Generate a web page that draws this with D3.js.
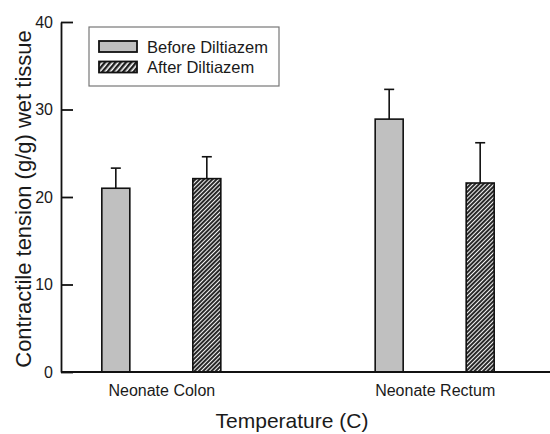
<!DOCTYPE html>
<html lang="en">
<head>
  <meta charset="UTF-8">
  <title>Contractile tension</title>
  <script src="https://d3js.org/d3.v7.min.js"></script>
  <style>
    body { margin: 0; background: #fff; }
    text { font-family: "Liberation Sans", Arial, sans-serif; fill: #1a1a1a; }
    .axis path, .axis line { stroke: #111; stroke-width: 1.8px; }
    .bar { stroke: #111; stroke-width: 1.6px; }
    .err { stroke: #111; stroke-width: 1.6px; }
  </style>
</head>
<body>

<svg width="550" height="434"></svg>

<script>
  // data
  const categories = ["Neonate Colon", "Neonate Rectum"];
  const series = ["Before Diltiazem", "After Diltiazem"];
  const before = [21.0, 28.9];
  const beforeErr = [2.3, 3.4];
  const after = [22.1, 21.6];
  const afterErr = [2.5, 4.6];
  const yTicks = [0, 10, 20, 30, 40];

  const rows = [];
  categories.forEach((c, i) => {
    rows.push({ cat: c, s: series[0], v: before[i], e: beforeErr[i] });
    rows.push({ cat: c, s: series[1], v: after[i], e: afterErr[i] });
  });

  const svg = d3.select("svg");
  const mLeft = 61, mBottom = 372, mTop = 22, mRight = 550;

  const y = d3.scaleLinear().domain([0, 40]).range([mBottom, mTop]);
  const x0 = d3.scalePoint().domain(categories).range([61, 535]).padding(0.367);
  const x1 = d3.scalePoint().domain(series).range([-45.5, 45.5]);
  const barW = 28;

  // hatch pattern
  const defs = svg.append("defs");
  const pat = defs.append("pattern")
    .attr("id", "hatch")
    .attr("patternUnits", "userSpaceOnUse")
    .attr("width", 3).attr("height", 3)
    .attr("patternTransform", "rotate(45)");
  pat.append("rect").attr("width", 3).attr("height", 3).attr("fill", "#f4f4f4");
  pat.append("line")
    .attr("x1", 1).attr("y1", 0).attr("x2", 1).attr("y2", 3)
    .attr("stroke", "#1e1e1e").attr("stroke-width", 1.9);

  const pat2 = defs.append("pattern")
    .attr("id", "hatchLegend")
    .attr("patternUnits", "userSpaceOnUse")
    .attr("width", 4).attr("height", 4)
    .attr("patternTransform", "rotate(40)");
  pat2.append("rect").attr("width", 4).attr("height", 4).attr("fill", "#fff");
  pat2.append("line")
    .attr("x1", 1.2).attr("y1", 0).attr("x2", 1.2).attr("y2", 4)
    .attr("stroke", "#1e1e1e").attr("stroke-width", 2.5);

  const fillFor = s => s === series[0] ? "#c0c0c0" : "url(#hatch)";

  // error bars (upper only)
  const eb = svg.selectAll(".errg").data(rows).enter().append("g");
  eb.append("line").attr("class", "err")
    .attr("x1", d => x0(d.cat) + x1(d.s)).attr("x2", d => x0(d.cat) + x1(d.s))
    .attr("y1", d => y(d.v)).attr("y2", d => y(d.v + d.e));
  eb.append("line").attr("class", "err")
    .attr("x1", d => x0(d.cat) + x1(d.s) - 5).attr("x2", d => x0(d.cat) + x1(d.s) + 5)
    .attr("y1", d => y(d.v + d.e)).attr("y2", d => y(d.v + d.e));

  // bars
  svg.selectAll(".bar").data(rows).enter().append("rect")
    .attr("class", "bar")
    .attr("x", d => x0(d.cat) + x1(d.s) - barW / 2)
    .attr("width", barW)
    .attr("y", d => y(d.v))
    .attr("height", d => y(0) - y(d.v))
    .attr("fill", d => fillFor(d.s));

  // y axis
  svg.append("g").attr("class", "axis")
    .attr("transform", `translate(${mLeft},0)`)
    .call(d3.axisLeft(y).tickValues(yTicks).tickSize(-12).tickSizeOuter(0).tickPadding(8))
    .call(g => g.selectAll("text").style("font-size", "16px").attr("fill", "#1a1a1a"));

  // x axis
  svg.append("g").attr("class", "axis")
    .attr("transform", `translate(0,${mBottom})`)
    .call(d3.axisBottom(x0).tickSize(0).tickPadding(13))
    .call(g => g.select(".domain").attr("d", `M${mLeft},0H${mRight}`))
    .call(g => g.selectAll("text").style("font-size", "16px").attr("fill", "#1a1a1a"));

  // axis titles
  svg.append("text")
    .attr("x", 292).attr("y", 428)
    .attr("text-anchor", "middle")
    .style("font-size", "21px")
    .text("Temperature (C)");

  svg.append("text")
    .attr("transform", "translate(31,199) rotate(-90)")
    .attr("text-anchor", "middle")
    .style("font-size", "22px")
    .text("Contractile tension (g/g) wet tissue");

  // legend
  const lg = svg.append("g");
  lg.append("rect")
    .attr("x", 89).attr("y", 27).attr("width", 190).attr("height", 59)
    .attr("fill", "#fff").attr("stroke", "#777").attr("stroke-width", 1.2);
  const item = lg.selectAll(".li").data(series).enter().append("g")
    .attr("transform", (d, i) => `translate(99,${41 + i * 20.5})`);
  item.append("rect")
    .attr("width", 38).attr("height", 11)
    .attr("fill", (d, i) => i === 0 ? "#c0c0c0" : "url(#hatchLegend)")
    .attr("stroke", "#111").attr("stroke-width", 1.8);
  item.append("text")
    .attr("x", 48).attr("y", 11.5)
    .style("font-size", "16.5px")
    .text(d => d);
</script>

</body>
</html>
